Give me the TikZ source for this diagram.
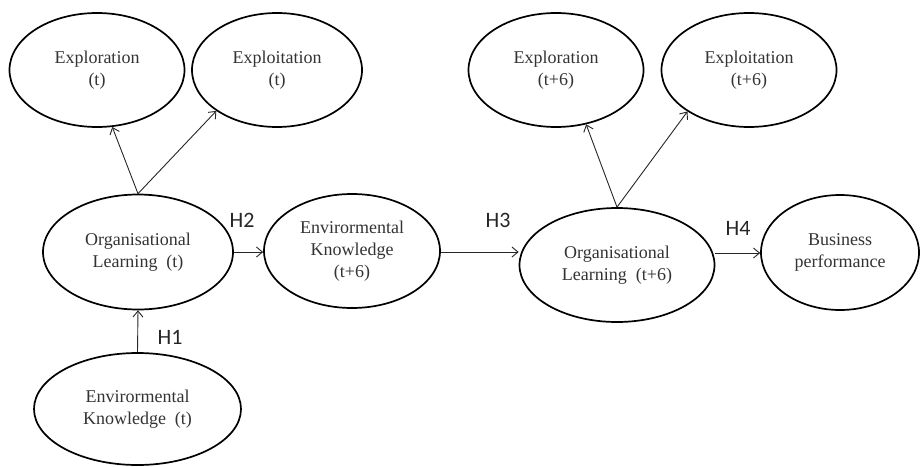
\documentclass[tikz,border=0pt]{standalone}
\usepackage{fontspec}
\setmainfont{Liberation Serif}
\newfontfamily\hfont{Carlito}
\usetikzlibrary{shapes.geometric,arrows.meta}
\definecolor{txt}{HTML}{333333}
\tikzset{
  ell/.style={draw=black, line width=1.7pt, ellipse, inner sep=0pt, align=center,
    text=txt, font=\fontsize{18}{22}\selectfont},
  conn/.style={draw=black!85, line width=0.9pt, -{Straight Barb[length=6pt,width=10pt]}},
  hlab/.style={font=\hfont\fontsize{22}{24}\selectfont, text=black!85, inner sep=0pt}
}
\begin{document}
\begin{tikzpicture}[x=1pt,y=-1pt]
\useasboundingbox (0,0) rectangle (923,466);
\node[ell, minimum width=175pt, minimum height=114pt] (expl1) at (97,70) {Exploration\\(t)};
\node[ell, minimum width=170pt, minimum height=114pt] (expt1) at (277,70) {Exploitation\\(t)};
\node[ell, minimum width=190pt, minimum height=115pt] (ol1) at (138,252) {Organisational\\Learning\ \ (t)};
\node[ell, minimum width=176pt, minimum height=114pt] (ek2) at (352,251) {Envirormental\\Knowledge\\(t+6)};
\node[ell, minimum width=207pt, minimum height=112pt] (ek1) at (137.5,409) {Envirormental\\Knowledge\ \ (t)};
\node[ell, minimum width=175pt, minimum height=114pt] (expl2) at (556,70) {Exploration\\(t+6)};
\node[ell, minimum width=175pt, minimum height=114pt] (expt2) at (749,70) {Exploitation\\(t+6)};
\node[ell, minimum width=195pt, minimum height=114pt] (ol2) at (617,265) {Organisational\\Learning\ \ (t+6)};
\node[ell, minimum width=158pt, minimum height=115pt] (bp) at (840,252.5) {Business\\performance};

\draw[conn] (ol1.north) -- (expl1.285);
\draw[conn] (ol1.north) -- (expt1.214);
\draw[conn] (ek1.north) -- (ol1.south);
\draw[conn] (ol1.east |- 0,252) coordinate (a1) -- (ek2.west |- a1);
\draw[conn] (ek2.east |- 0,252) coordinate (a2) -- (ol2.west |- a2);
\draw[conn] (ol2.north) -- (expl2.299);
\draw[conn] (ol2.north) -- (expt2.214);
\draw[conn] (ol2.east |- 0,253) coordinate (a3) -- (bp.west |- a3);

\node[hlab] (h1) at (170,337) {H1};
\node[hlab] (h2) at (242,220) {H2};
\node[hlab] (h3) at (498,220) {H3};
\node[hlab] (h4) at (738,228) {H4};
\end{tikzpicture}
\end{document}
